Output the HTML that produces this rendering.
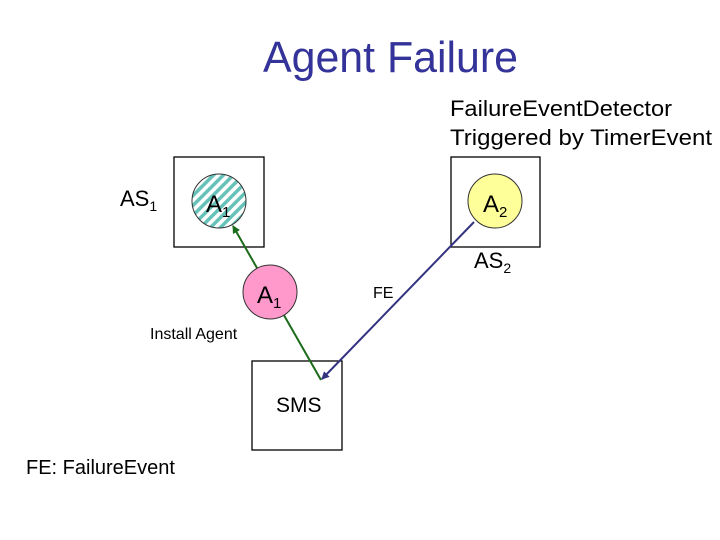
<!DOCTYPE html>
<html><head><style>html,body{margin:0;padding:0;background:#fff}svg{display:block}</style></head>
<body>
<svg width="720" height="540" xmlns="http://www.w3.org/2000/svg" font-family="Liberation Sans, sans-serif">
<defs>
<pattern id="h" patternUnits="userSpaceOnUse" width="7" height="7" patternTransform="rotate(45)">
<rect width="7" height="7" fill="#fff"/><rect width="3.5" height="7" fill="#66c2b8"/>
</pattern>
<marker id="ag" markerWidth="8" markerHeight="8" refX="7" refY="4" orient="auto" markerUnits="userSpaceOnUse"><path d="M0,0 L8,4 L0,8z" fill="#1a6b1a"/></marker>
<marker id="ab" markerWidth="8" markerHeight="8" refX="7" refY="4" orient="auto" markerUnits="userSpaceOnUse"><path d="M0,0 L8,4 L0,8z" fill="#333380"/></marker>
</defs>
<text x="263" y="72" font-size="44" fill="#333399" textLength="255" lengthAdjust="spacingAndGlyphs">Agent Failure</text>
<text x="450" y="116" font-size="22" textLength="222" lengthAdjust="spacingAndGlyphs">FailureEventDetector</text>
<text x="450" y="145" font-size="22" textLength="262" lengthAdjust="spacingAndGlyphs">Triggered by TimerEvent</text>
<rect x="174" y="157" width="90" height="90" fill="none" stroke="#000" stroke-width="1.3"/>
<rect x="451" y="157" width="89" height="90" fill="none" stroke="#000" stroke-width="1.3"/>
<rect x="252" y="361" width="90" height="89" fill="none" stroke="#000" stroke-width="1.3"/>
<text x="120" y="206" font-size="22">AS<tspan font-size="14" dy="5">1</tspan></text>
<text x="474" y="268" font-size="22">AS<tspan font-size="14" dy="5">2</tspan></text>
<circle cx="219" cy="201" r="27" fill="url(#h)" stroke="#333" stroke-width="1"/>
<text x="206" y="212" font-size="24">A<tspan font-size="15" dy="5">1</tspan></text>
<circle cx="495" cy="201" r="27" fill="#ffff99" stroke="#333" stroke-width="1"/>
<text x="483" y="212" font-size="24">A<tspan font-size="15" dy="5">2</tspan></text>
<line x1="321" y1="380" x2="233" y2="226" stroke="#1a6b1a" stroke-width="2" marker-end="url(#ag)"/>
<line x1="474" y1="222" x2="322" y2="379" stroke="#333380" stroke-width="2" marker-end="url(#ab)"/>
<circle cx="270" cy="292" r="27" fill="#ff99cc" stroke="#333" stroke-width="1"/>
<text x="257" y="303" font-size="24">A<tspan font-size="15" dy="5">1</tspan></text>
<text x="373" y="298" font-size="16">FE</text>
<text x="150" y="339" font-size="16">Install Agent</text>
<text x="276" y="412" font-size="21">SMS</text>
<text x="26" y="474" font-size="20">FE: FailureEvent</text>
</svg>
</body></html>
